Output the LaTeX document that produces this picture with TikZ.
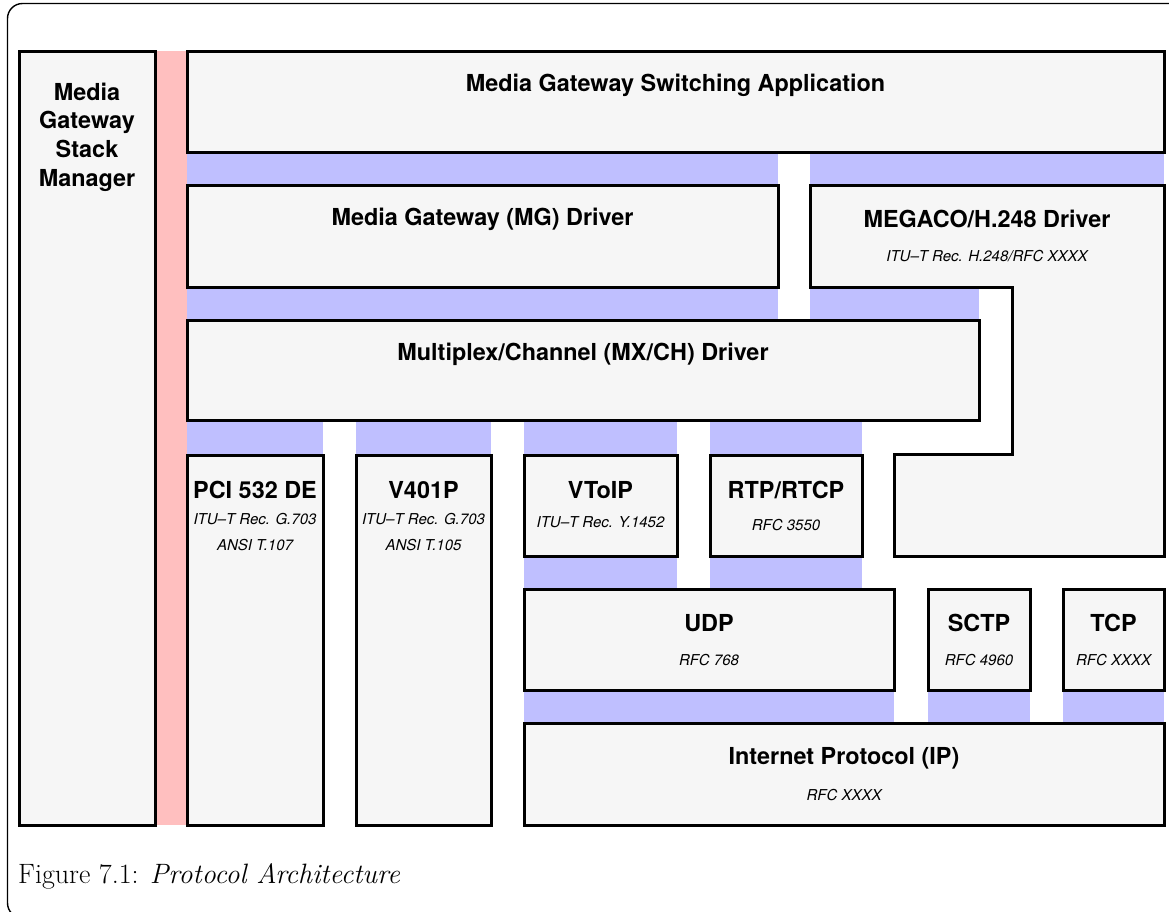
\documentclass[tikz,border=0pt]{standalone}
\usepackage{fontspec}
\newfontfamily\hv{TeX Gyre Heros}
\usetikzlibrary{backgrounds}
\definecolor{boxfill}{HTML}{F6F6F6}
\definecolor{bandblue}{HTML}{BFBFFF}
\definecolor{bandpink}{HTML}{FFBFBF}
\tikzset{
  layerbox/.style={draw=black, line width=3pt, fill=boxfill, rectangle, inner sep=0pt, outer sep=0pt},
  title/.style={font=\hv\bfseries\fontsize{23.4}{28.7}\selectfont, align=center, inner sep=0pt},
  spec/.style={font=\hv\itshape\fontsize{15}{26}\selectfont, align=center, inner sep=0pt},
  band/.style={fill=bandblue},
}
\begin{document}
\begin{tikzpicture}[x=1pt, y=-1pt]
\useasboundingbox (0,0) rectangle (1169,911);

% outer frame (runs off the right and bottom edges)
\begin{scope}
  \clip (0,0) rectangle (1169,911);
  \draw[line width=1.4pt, rounded corners=15pt] (7.5,3.5) rectangle (1200,918);
\end{scope}

% layer boxes
\node[layerbox, minimum width=136pt, minimum height=774pt] (sm)    at (87,438) {};
\node[layerbox, minimum width=977pt, minimum height=101pt] (app)   at (675.5,101.5) {};
\node[layerbox, minimum width=591pt, minimum height=102pt] (mg)    at (482.5,236) {};
\node[layerbox, minimum width=792pt, minimum height=100pt] (mx)    at (583,370) {};
\node[layerbox, minimum width=136pt, minimum height=370pt] (pci)   at (255,640) {};
\node[layerbox, minimum width=135pt, minimum height=370pt] (v401)  at (423.5,640) {};
\node[layerbox, minimum width=153pt, minimum height=101pt] (vtoip) at (600.5,505.5) {};
\node[layerbox, minimum width=152pt, minimum height=101pt] (rtp)   at (786,505.5) {};
\node[layerbox, minimum width=370pt, minimum height=101pt] (udp)   at (709,639.5) {};
\node[layerbox, minimum width=102pt, minimum height=101pt] (sctp)  at (979,639.5) {};
\node[layerbox, minimum width=101pt, minimum height=101pt] (tcp)   at (1113.5,639.5) {};
\node[layerbox, minimum width=640pt, minimum height=102pt] (ip)    at (844,774) {};

% MEGACO/H.248 driver: L-shaped block wrapping the MX/CH driver
\coordinate (megNW) at (810,185);
\coordinate (megNE) at (1164,185);
\coordinate (megSW) at (810,287);
\coordinate (megNotch) at (1012,287);
\draw[layerbox] (megNW) -- (megNE) -- (1164,556) -- (894,556) -- (894,454)
  -- (1012,454) -- (megNotch) -- (megSW) -- cycle;

% interface bands between adjacent layers
\begin{scope}[on background layer]
  \fill[bandpink] (sm.north east) rectangle (pci.south west);
  \fill[band] (mg.north west |- app.south) rectangle (mg.north east);
  \fill[band] (megNW |- app.south) rectangle (megNE);
  \fill[band] (mg.south west) rectangle (mg.south east |- mx.north);
  \fill[band] (megSW) rectangle (mx.north east);
  \foreach \n in {pci,v401,vtoip,rtp}
    \fill[band] (\n.north west |- mx.south) rectangle (\n.north east);
  \foreach \n in {vtoip,rtp}
    \fill[band] (\n.south west) rectangle (\n.south east |- udp.north);
  \foreach \n in {udp,sctp,tcp}
    \fill[band] (\n.south west) rectangle (\n.south east |- ip.north);
\end{scope}

% labels
\node[title] (smT) at (87,137) {Media\\Gateway\\Stack\\Manager};
\node[title] (appT) at (675.5,85) {Media Gateway Switching Application};
\node[title] (mgT) at (482.5,219) {Media Gateway (MG) Driver};
\node[title] (megT) at (987,219) {MEGACO/H.248 Driver};
\node[spec]  (megS) at (987,256) {ITU–T Rec. H.248/RFC XXXX};
\node[title] (mxT) at (583,354) {Multiplex/Channel (MX/CH) Driver};
\node[title] (pciT) at (255,490) {PCI 532 DE};
\node[spec]  (pciS) at (255,532) {ITU–T Rec. G.703\\ANSI T.107};
\node[title] (v401T) at (423.5,490) {V401P};
\node[spec]  (v401S) at (423.5,532) {ITU–T Rec. G.703\\ANSI T.105};
\node[title] (vtoipT) at (600.5,490) {VToIP};
\node[spec]  (vtoipS) at (600.5,522) {ITU–T Rec. Y.1452};
\node[title] (rtpT) at (786,490) {RTP/RTCP};
\node[spec]  (rtpS) at (786,525) {RFC 3550};
\node[title] (udpT) at (709,623) {UDP};
\node[spec]  (udpS) at (709,660) {RFC 768};
\node[title] (sctpT) at (979,623) {SCTP};
\node[spec]  (sctpS) at (979,660) {RFC 4960};
\node[title] (tcpT) at (1113.5,623) {TCP};
\node[spec]  (tcpS) at (1113.5,660) {RFC XXXX};
\node[title] (ipT) at (844,758) {Internet Protocol (IP)};
\node[spec]  (ipS) at (844,795) {RFC XXXX};

% caption
\node[anchor=base west, inner sep=0pt, font=\fontsize{28}{33}\selectfont] (cap) at (18,883)
  {Figure 7.1: \textit{Protocol Architecture}};
\end{tikzpicture}
\end{document}
